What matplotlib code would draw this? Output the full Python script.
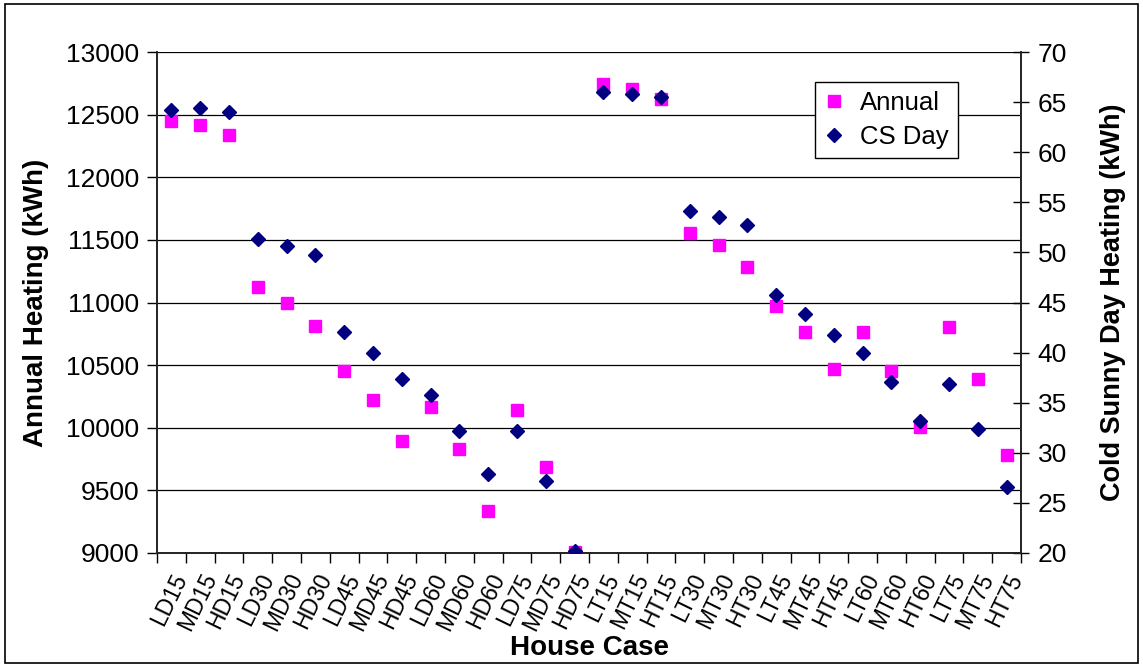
import numpy as np
import matplotlib
matplotlib.use("Agg")
import matplotlib.pyplot as plt
from matplotlib.patches import Rectangle

plt.rcParams['font.family'] = ['Liberation Sans', 'DejaVu Sans']

# --- data ---
cases = ['LD15', 'MD15', 'HD15', 'LD30', 'MD30', 'HD30', 'LD45', 'MD45', 'HD45',
         'LD60', 'MD60', 'HD60', 'LD75', 'MD75', 'HD75',
         'LT15', 'MT15', 'HT15', 'LT30', 'MT30', 'HT30', 'LT45', 'MT45', 'HT45',
         'LT60', 'MT60', 'HT60', 'LT75', 'MT75', 'HT75']
annual = [12452, 12415, 12337, 11125, 10996, 10815, 10453, 10222, 9892,
          10168, 9828, 9335, 10142, 9687, 9010,
          12745, 12705, 12622, 11557, 11457, 11283, 10972, 10764, 10467,
          10764, 10456, 10008, 10804, 10389, 9780]
cs_day = [64.2, 64.4, 64.0, 51.3, 50.6, 49.7, 42.1, 40.0, 37.4,
          35.8, 32.2, 27.85, 32.2, 27.2, 20.2,
          65.98, 65.84, 65.5, 54.16, 53.5, 52.7, 45.7, 43.9, 41.8,
          40.0, 37.1, 33.2, 36.9, 32.4, 26.55]

x = np.arange(len(cases))

fig = plt.figure(figsize=(11.43, 6.67), dpi=100)
ax = fig.add_axes([157/1143, 1 - 553/667, (1021 - 157)/1143, (553 - 52)/667])
ax2 = ax.twinx()

# outer frame of the chart
fig.patches.append(Rectangle((5/1143, 4/667), 1 - 10/1143, 1 - 8/667,
                             transform=fig.transFigure, fill=False,
                             edgecolor='black', linewidth=1.2))

ax.plot(x, annual, linestyle='none', marker='s', markersize=8,
        color='#FF00FF', markeredgecolor='#FF00FF', label='Annual', zorder=3)
ax2.plot(x, cs_day, linestyle='none', marker='D', markersize=7,
         color='#000080', markeredgecolor='#000080', label='CS Day', zorder=3)

ax.set_xlim(-0.5, len(cases) - 0.5)
ax.set_ylim(9000, 13000)
ax2.set_ylim(20, 70)
ax.set_yticks(np.arange(9000, 13001, 500))
ax2.set_yticks(np.arange(20, 71, 5))

ax.yaxis.grid(True, color='black', linewidth=0.9)
ax.set_axisbelow(True)

# category boundaries carry ticks, labels sit at centres
ax.set_xticks(np.arange(-0.5, len(cases), 1.0))
ax.set_xticklabels([])
ax.set_xticks(x, minor=True)
ax.set_xticklabels(cases, minor=True, rotation=64, ha='right', va='top',
                   rotation_mode='anchor', fontsize=16.5)
ax.tick_params(axis='x', which='major', direction='out', length=7, width=1)
ax.tick_params(axis='x', which='minor', length=0, pad=12)

ax.tick_params(axis='y', direction='out', length=7, width=1, labelsize=19, pad=6)
ax2.tick_params(axis='y', direction='inout', length=12, width=1, labelsize=19, pad=6)

for a in (ax, ax2):
    a.spines['top'].set_visible(False)
    for s in ('left', 'right', 'bottom'):
        a.spines[s].set_linewidth(1.2)
        a.spines[s].set_color('#222222')

ax.set_ylabel('Annual Heating (kWh)', fontsize=20, fontweight='bold', labelpad=12)
ax2.set_ylabel('Cold Sunny Day Heating (kWh)', fontsize=19.5, fontweight='bold', labelpad=24)
ax.set_xlabel('House Case', fontsize=20, fontweight='bold', labelpad=0)

h1, l1 = ax.get_legend_handles_labels()
h2, l2 = ax2.get_legend_handles_labels()
leg = ax2.legend(h1 + h2, l1 + l2, loc='upper left',
                 bbox_to_anchor=(815/1143, 1 - 82/667), bbox_transform=fig.transFigure,
                 fontsize=18.5, fancybox=False, framealpha=1, edgecolor='black',
                 handlelength=0.8, handletextpad=0.6, borderpad=0.35,
                 labelspacing=0.4, borderaxespad=0)
leg.get_frame().set_linewidth(1.0)

fig.savefig('out.png', dpi=100)
